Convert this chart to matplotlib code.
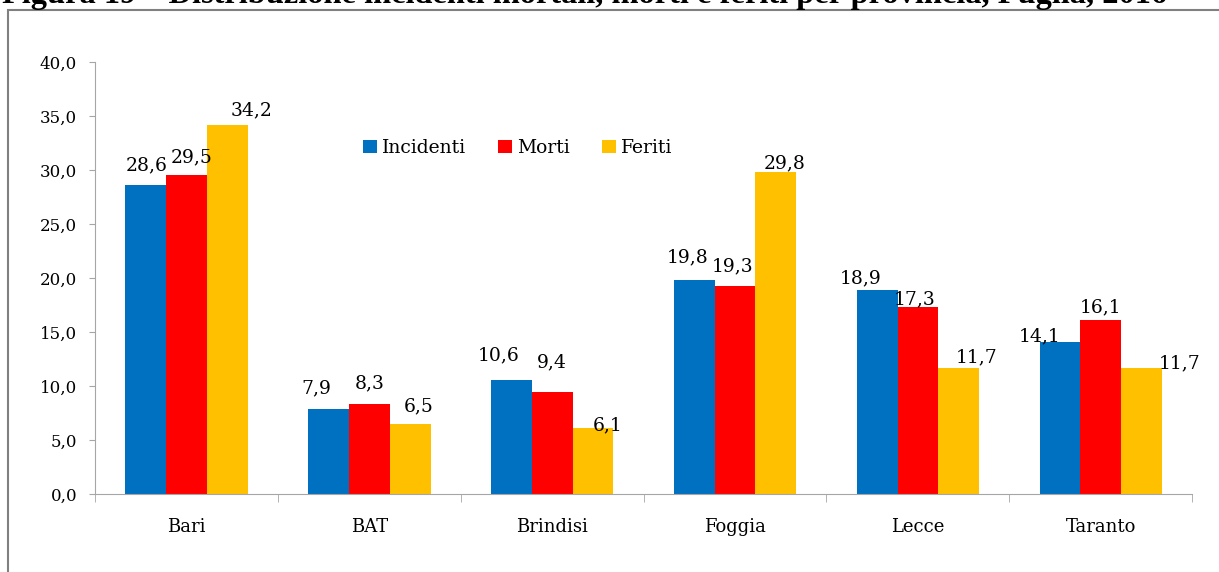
import matplotlib.pyplot as plt
import numpy as np
from matplotlib.patches import Rectangle

# Dati (percentuali per provincia)
province = ['Bari', 'BAT', 'Brindisi', 'Foggia', 'Lecce', 'Taranto']
incidenti = [28.6, 7.9, 10.6, 19.8, 18.9, 14.1]
morti = [29.5, 8.3, 9.4, 19.3, 17.3, 16.1]
feriti = [34.2, 6.5, 6.1, 29.8, 11.7, 11.7]
serie = ['Incidenti', 'Morti', 'Feriti']
colori = ['#0070C0', '#FF0000', '#FFC000']
titolo = 'Figura 19 – Distribuzione incidenti mortali, morti e feriti per provincia, Puglia, 2016'

# posizione delle etichette: (spostamento orizzontale, distanza dalla barra) in pixel
pos_etichette = {
    (0, 0): (1, 15), (0, 1): (5, 13), (0, 2): (24, 9),
    (1, 0): (-12, 15), (1, 1): (0, 16), (1, 2): (9, 12),
    (2, 0): (-13, 19), (2, 1): (0, 25), (2, 2): (15, -2),
    (3, 0): (-7, 18), (3, 1): (-2, 14), (3, 2): (9, 4),
    (4, 0): (-17, 7), (4, 1): (-3, 3), (4, 2): (18, 5),
    (5, 0): (-20, 0), (5, 1): (0, 8), (5, 2): (38, -1),
}

plt.rcParams['font.family'] = ['DejaVu Serif']

fig = plt.figure(figsize=(12.19, 5.72), dpi=100)
ax = fig.add_axes([0.078, 0.1364, 0.900, 0.7552])

# cornice grigia
fig.patches.append(Rectangle((0.0062, -0.05), 1.05, 1.0325, transform=fig.transFigure,
                             fill=False, edgecolor='#808080', linewidth=1.5))

fig.text(0.002, 1 - 3 / 572, titolo, fontsize=23.3, fontweight='bold',
         family=['Liberation Serif'], ha='left', va='baseline')

x = np.arange(len(province))
w = 0.223
for j, (vals, nome, col) in enumerate(zip([incidenti, morti, feriti], serie, colori)):
    pos = x + (j - 1) * w
    ax.bar(pos, vals, width=w, color=col, label=nome)
    for i, v in enumerate(vals):
        dx, dy = pos_etichette.get((i, j), (0, 9))
        ax.annotate(f'{v:.1f}'.replace('.', ','), (pos[i], v),
                    xytext=(dx * 0.72, dy * 0.72), textcoords='offset points',
                    ha='center', va='baseline', fontsize=13.5)

ax.set_ylim(0, 40)
ax.set_xlim(-0.5, len(province) - 0.5)
yt = np.arange(0, 40.1, 5)
ax.set_yticks(yt)
ax.set_yticklabels([f'{t:.1f}'.replace('.', ',') for t in yt], fontsize=12)
ax.set_xticks(x)
ax.set_xticklabels(province, fontsize=13)
ax.set_xticks(np.arange(-0.5, len(province)), minor=True)
ax.tick_params(axis='x', which='major', length=0, pad=17)
ax.tick_params(axis='x', which='minor', length=6, color='#A6A6A6')
ax.tick_params(axis='y', length=4, color='#A6A6A6', pad=9)

for s in ['top', 'right']:
    ax.spines[s].set_visible(False)
for s in ['left', 'bottom']:
    ax.spines[s].set_color('#A6A6A6')

ax.legend(loc='center left', bbox_to_anchor=(0.2443, 0.801), ncol=3, frameon=False,
          fontsize=13.5, handlelength=0.75, handleheight=0.75, handletextpad=0.27,
          columnspacing=1.7, borderpad=0, borderaxespad=0)

plt.savefig('out.png', dpi=100)
